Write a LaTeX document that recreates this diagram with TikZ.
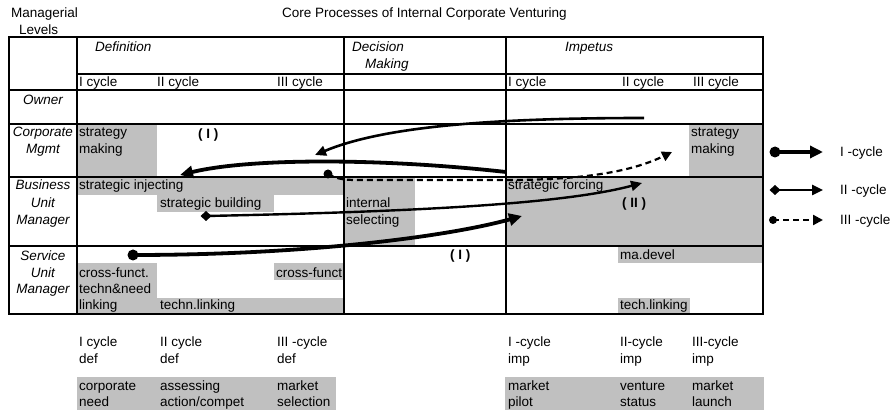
\documentclass[tikz,border=0pt]{standalone}
\usepackage{fontspec}
\setmainfont{Liberation Sans}
\usetikzlibrary{arrows.meta}
\definecolor{grayfill}{RGB}{192,192,192}
\newcommand\myfs{\fontsize{13.5}{16}\selectfont}
\tikzset{
  txt/.style={anchor=base west, inner sep=0pt, font=\myfs},
  itl/.style={anchor=base, inner sep=0pt, font=\myfs\itshape},
  itw/.style={anchor=base west, inner sep=0pt, font=\myfs\itshape},
  bld/.style={anchor=base west, inner sep=0pt, font=\myfs\bfseries},
  grid/.style={line width=1.8pt},
  shade/.style={fill=grayfill, draw=none},
  cycone/.style={line width=3.8pt, -{Triangle[length=13pt,width=12pt]}},
  cyctwo/.style={line width=2.4pt, -{Triangle[length=11pt,width=10pt]}},
  cycthree/.style={line width=2.2pt, dash pattern=on 6pt off 4pt, -{Triangle[length=10pt,width=10pt]}},
}
\begin{document}
\begin{tikzpicture}[x=1pt,y=-1pt]
\useasboundingbox (0,0) rectangle (891,419);
% gray areas
\fill[shade] (77,124) rectangle (157,177);
\fill[shade] (689,124) rectangle (763,177);
\fill[shade] (77,177) rectangle (344,195);
\fill[shade] (157,195) rectangle (274,212);
\fill[shade] (344,177) rectangle (415,246);
\fill[shade] (506,177) rectangle (763,246);
\fill[shade] (77,263) rectangle (157,314);
\fill[shade] (157,298) rectangle (344,314);
\fill[shade] (274,263) rectangle (344,280);
\fill[shade] (618,247) rectangle (763,263);
\fill[shade] (618,298) rectangle (690,314);
\fill[shade] (77,377) rectangle (336,410);
\fill[shade] (505,377) rectangle (764,410);
% grid
\draw[grid] (9,37) rectangle (763,314);
\draw[grid] (77,74) -- (763,74);
\draw[grid] (9,90) -- (763,90);
\draw[grid] (9,124) -- (763,124);
\draw[grid] (9,177) -- (763,177);
\draw[grid] (9,246) -- (763,246);
\draw[grid] (77,37) -- (77,314);
\draw[grid] (344,37) -- (344,314);
\draw[grid] (506,37) -- (506,314);
% headings
\node[txt] (managerial) at (11,18) {Managerial};
\node[txt] (levels) at (19,35) {Levels};
\node[txt] (title) at (282,18) {Core Processes of Internal Corporate Venturing};
\node[itw] (hdef) at (95,52) {Definition};
\node[itw] (hdec) at (352,52) {Decision};
\node[itw] (hdec2) at (365,69) {Making};
\node[itw] (himp) at (565,52) {Impetus};
\node[txt] (c1) at (79,87) {I cycle};
\node[txt] (c2) at (157,87) {II cycle};
\node[txt] (c3) at (277,87) {III cycle};
\node[txt] (c4) at (508,87) {I cycle};
\node[txt] (c5) at (622,87) {II cycle};
\node[txt] (c6) at (693,87) {III cycle};
% row labels
\node[itl] (rown) at (43,105) {Owner};
\node[itl] (rcorp1) at (43,137) {Corporate};
\node[itl] (rcorp2) at (43,154) {Mgmt};
\node[itl] (rbus1) at (43,190) {Business};
\node[itl] (rbus2) at (43,207.5) {Unit};
\node[itl] (rbus3) at (43,225) {Manager};
\node[itl] (rser1) at (43,261) {Service};
\node[itl] (rser2) at (43,278) {Unit};
\node[itl] (rser3) at (43,294) {Manager};
% cell texts
\node[txt] (sm1) at (79,137) {strategy};
\node[txt] (sm2) at (79,154) {making};
\node[bld] (pI1) at (198,139) {( I )};
\node[txt] (sm3) at (691,137) {strategy};
\node[txt] (sm4) at (691,154) {making};
\node[txt] (sinj) at (79,190) {strategic injecting};
\node[txt] (sbld) at (160,207.5) {strategic building};
\node[txt] (isel1) at (346,207.5) {internal};
\node[txt] (isel2) at (346,225) {selecting};
\node[txt] (sfor) at (508,190) {strategic forcing};
\node[bld] (pII) at (622,208) {( II )};
\node[bld] (pI2) at (450,260) {( I )};
\node[txt] (cf1) at (79,278) {cross-funct.};
\node[txt] (cf2) at (79,294) {techn\&need};
\node[txt] (cf3) at (79,310) {linking};
\node[txt] (tl1) at (160,310) {techn.linking};
\node[txt] (cf4) at (276,278) {cross-funct};
\node[txt] (mad) at (620,260) {ma.devel};
\node[txt] (tl2) at (620,310) {tech.linking};
% bottom labels
\node[txt] (b1a) at (79,347) {I cycle};
\node[txt] (b1b) at (79,363) {def};
\node[txt] (b2a) at (160,347) {II cycle};
\node[txt] (b2b) at (160,363) {def};
\node[txt] (b3a) at (277,347) {III -cycle};
\node[txt] (b3b) at (277,363) {def};
\node[txt] (b4a) at (508,347) {I -cycle};
\node[txt] (b4b) at (508,363) {imp};
\node[txt] (b5a) at (620,347) {II-cycle};
\node[txt] (b5b) at (620,363) {imp};
\node[txt] (b6a) at (692,347) {III-cycle};
\node[txt] (b6b) at (692,363) {imp};
\node[txt] (g1a) at (79,390) {corporate};
\node[txt] (g1b) at (79,406) {need};
\node[txt] (g2a) at (160,390) {assessing};
\node[txt] (g2b) at (160,406) {action/compet};
\node[txt] (g3a) at (277,390) {market};
\node[txt] (g3b) at (277,406) {selection};
\node[txt] (g4a) at (508,390) {market};
\node[txt] (g4b) at (508,406) {pilot};
\node[txt] (g5a) at (620,390) {venture};
\node[txt] (g5b) at (620,406) {status};
\node[txt] (g6a) at (692,390) {market};
\node[txt] (g6b) at (692,406) {launch};
% arrow end points
\coordinate (aS) at (644,118);
\coordinate (aE) at (315,155);
\coordinate (bS) at (506,172);
\coordinate (bE) at (180,175);
\coordinate (cS) at (328,174);
\coordinate (cM) at (506,180);
\coordinate (cE) at (672,152);
\coordinate (dS) at (206,216);
\coordinate (dE) at (642,183);
\coordinate (eS) at (133,255);
\coordinate (eE) at (522,216);
% arrows
\draw[cyctwo, line width=2.6pt] (aS) .. controls (480,118) and (380,128) .. (aE);
\draw[cycone] (bS) .. controls (380,158) and (250,158) .. (bE);
\fill (cS) circle (4.5pt);
\draw[cycthree] (cS) .. controls (338,180) and (348,180) .. (360,180) -- (cM) .. controls (590,180) and (635,170) .. (cE);
\fill (dS) ++(-5.5,0) -- ++(5.5,-5) -- ++(5.5,5) -- ++(-5.5,5) -- cycle;
\draw[cyctwo] (dS) .. controls (400,212) and (560,205) .. (dE);
\fill (eS) circle (5.5pt);
\draw[cycone] (eS) .. controls (310,255) and (450,236) .. (eE);
% legend
\coordinate (l1s) at (775,152);
\coordinate (l1e) at (823,152);
\coordinate (l2s) at (775,190);
\coordinate (l2e) at (823,190);
\coordinate (l3s) at (773,220);
\coordinate (l3e) at (823,220);
\fill (l1s) circle (5.5pt);
\draw[cycone] (l1s) -- (l1e);
\fill (l2s) ++(-5.5,0) -- ++(5.5,-5) -- ++(5.5,5) -- ++(-5.5,5) -- cycle;
\draw[cyctwo] (l2s) -- (l2e);
\fill (l3s) circle (4pt);
\draw[cycthree] (l3s) -- (l3e);
\node[txt] (lt1) at (840,157) {I -cycle};
\node[txt] (lt2) at (840,195) {II -cycle};
\node[txt] (lt3) at (840,225) {III -cycle};
\end{tikzpicture}
\end{document}
